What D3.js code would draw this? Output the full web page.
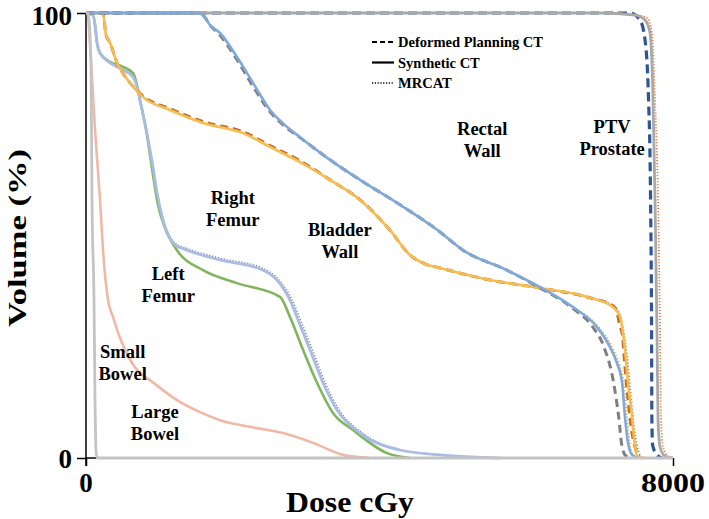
<!DOCTYPE html>
<html>
<head>
<meta charset="utf-8">
<script src="https://cdnjs.cloudflare.com/ajax/libs/d3/7.8.5/d3.min.js"></script>
<style>
  body { margin: 0; background: #fff; }
  text { font-family: "Liberation Serif", "DejaVu Serif", serif; font-weight: bold; fill: #000; }
</style>
</head>
<body>
<div id="chart"></div>
<script>
// dose (cGy), volume (%)
var ptvSynth    = [[0,100],[7005,100],[7483,99.5],[7619,98.4],[7687,95.5],[7728,80.4],[7755,58],[7782,28.1],[7796,8.5],[7823,2.5],[7891,0.4],[8000,0]];
var ptvDeformed = [[0,100],[7414,100],[7551,98.4],[7619,93.9],[7667,80.4],[7694,58],[7708,28.1],[7712,8.5],[7722,2.9],[7782,0.7],[7850,0]];
var ptvMrcat    = [[0,100],[7100,100],[7510,99.5],[7646,98.9],[7714,95.5],[7755,80.4],[7796,58],[7823,28.1],[7837,8.5],[7864,2.5],[7932,0.4],[8000,0]];

var rectalSynth    = [[0,100],[1526,100],[1595,99.5],[1690,97.3],[1826,95.5],[2058,90.1],[2276,84.3],[2508,78.2],[2712,74.8],[2917,72.1],[3326,67],[3735,62.5],[4280,56.9],[4825,50.8],[5138,46.7],[5738,42.2],[6188,38.4],[6637,33.9],[6965,29.4],[7142,24.9],[7237,21.3],[7306,16.9],[7346,9.2],[7387,3.4],[7442,0.7],[7524,0]];
var rectalDeformed = [[0,100],[1526,100],[1595,99.5],[1690,97.3],[1826,95],[2058,89.5],[2276,83.5],[2508,77.8],[2712,74.5],[2917,72],[3326,67],[3735,62.5],[4280,56.9],[4825,50.8],[5138,46.7],[5738,42.2],[6188,38.2],[6637,33.6],[6900,29.6],[7060,24.9],[7190,17],[7260,9.2],[7306,2.5],[7360,0.4],[7420,0]];
var rectalMrcat    = [[0,100],[1526,100],[1595,99.5],[1690,97.3],[1826,95.5],[2058,90.1],[2276,84.3],[2508,78.2],[2712,74.8],[2917,72.1],[3326,67],[3735,62.5],[4280,56.9],[4825,50.8],[5138,46.7],[5738,42.2],[6188,38.4],[6637,33.9],[6990,29.4],[7170,24.9],[7270,21],[7330,16.9],[7375,9.2],[7410,3.4],[7460,0.7],[7540,0]];

var bladderSynth    = [[0,100],[232,100],[273,95],[327,93.3],[423,88.8],[518,86.1],[600,84.3],[777,81.1],[1145,78.2],[1595,75.3],[2140,73],[2508,69.9],[2917,66.5],[3326,62.5],[3735,58],[4143,51.2],[4416,45.6],[4621,43.6],[4825,42.7],[5506,40],[6188,38.2],[6870,36],[7183,33.9],[7251,32.6],[7278,31.7],[7346,24.3],[7387,16.9],[7442,9.2],[7483,2.5],[7524,0.2],[7619,0]];
var bladderDeformed = [[0,100],[232,100],[273,95],[327,93.3],[423,88.8],[518,86.1],[600,84.3],[777,81.3],[1145,78.5],[1595,75.6],[2140,73.3],[2508,70.2],[2917,66.8],[3326,62.5],[3735,58],[4143,51.2],[4416,45.6],[4621,43.6],[4825,42.7],[5506,40],[6188,38.2],[6870,36],[7183,34.2],[7237,32.8],[7278,29.5],[7306,28.1],[7346,20.4],[7387,13],[7442,5.6],[7510,1.1],[7551,0]];
var bladderMrcat    = [[0,100],[232,100],[273,95],[327,93.3],[423,88.8],[518,86.1],[600,84.3],[777,81.1],[1145,78.2],[1595,75.3],[2140,73],[2508,69.9],[2917,66.5],[3326,62.5],[3735,58],[4143,51.2],[4416,45.6],[4621,43.6],[4825,42.7],[5506,40],[6188,38.2],[6870,36],[7200,34],[7280,32],[7320,29],[7380,22],[7420,15],[7470,7],[7520,2],[7570,0]];

var rightFemurSynth = [[0,100],[95,99.5],[123,97.3],[150,93.3],[191,91],[327,88.8],[504,87.2],[641,85.6],[695,83.4],[736,80.4],[831,73],[913,65.4],[968,59.6],[1049,53.5],[1213,47.9],[1377,46.7],[1826,44.5],[2413,42.2],[2603,40],[2780,35.5],[2917,29.9],[3053,24.3],[3230,16.9],[3421,10.8],[3735,5.6],[4280,1.8],[4825,0.7],[5643,0]];
var rightFemurMrcat = [[0,100],[95,99.5],[123,97.3],[150,93.3],[191,91],[327,88.8],[504,87.4],[641,85.8],[695,83.6],[736,80.6],[831,73.2],[913,65.6],[968,59.8],[1049,53.8],[1213,48.3],[1377,47.1],[1826,44.9],[2413,42.6],[2630,40],[2810,35.5],[2950,29.9],[3085,24.3],[3260,16.9],[3450,10.8],[3770,5.6],[4300,1.8],[4850,0.7],[5643,0]];
var leftFemurSynth  = [[0,100],[95,99.5],[123,97.3],[150,93.3],[191,91],[327,89],[504,87.9],[641,86.5],[695,83.8],[736,80.4],[831,72.6],[913,63.6],[981,56.9],[1077,51.7],[1240,46.7],[1595,42.2],[2058,39.3],[2644,36.2],[2780,31.7],[2958,24.3],[3149,16.9],[3366,10.1],[3639,6.3],[4103,1.1],[4416,0]];

var largeBowelSynth = [[27,100],[68,89.4],[123,73.7],[191,58],[232,46.7],[300,35.5],[368,31.7],[450,27.6],[532,24.3],[695,19.8],[872,17.5],[1240,13],[1554,10.3],[1826,8.5],[2235,7],[2685,5.6],[3094,3.4],[3503,0.7],[3871,0]];
var smallBowelSynth = [[0,100],[27,100],[68,89],[82,58],[109,35.5],[123,13],[136,1.8],[150,0],[8000,0]];

var xTicks = [0, 8000];
var yTicks = [0, 100];

var legendItems = [
  {name: 'Deformed Planning CT', dash: '5,3', width: 2},
  {name: 'Synthetic CT', dash: null, width: 2.2},
  {name: 'MRCAT', dash: '1.2,1.6', width: 1.6}
];

var structLabels = [
  {lines: ['PTV', 'Prostate'], dose: 7170, vol: 73},
  {lines: ['Rectal', 'Wall'], dose: 5400, vol: 72.5},
  {lines: ['Bladder', 'Wall'], dose: 3460, vol: 50},
  {lines: ['Right', 'Femur'], dose: 2000, vol: 57},
  {lines: ['Left', 'Femur'], dose: 1120, vol: 40},
  {lines: ['Small', 'Bowel'], dose: 500, vol: 22.5},
  {lines: ['Large', 'Bowel'], dose: 940, vol: 9}
];

function drawChart(){
	var width = 709, height = 519;
	var svg = d3.select('#chart').append('svg')
			.attr('width', width)
			.attr('height', height);

	var x = d3.scaleLinear().domain([0, 8000]).range([86, 673]);
	var y = d3.scaleLinear().domain([0, 100]).range([458, 13]);

	// monotone in dose keeps the steep falls from overshooting
	var line = d3.line()
		.x(function(d) { return x(d[0]); })
		.y(function(d) { return y(d[1]); })
		.curve(d3.curveMonotoneX);

	// axes
	var xAxis = d3.axisBottom(x).tickValues(xTicks).tickSize(8).tickFormat('');
	var yAxis = d3.axisLeft(y).tickValues(yTicks).tickSize(9).tickFormat('');
	var gx = svg.append('g').attr('transform', 'translate(0,458)').call(xAxis);
	var gy = svg.append('g').attr('transform', 'translate(86,0)').call(yAxis);
	gx.select('.domain').attr('d', 'M86,0H673').attr('stroke', '#000').attr('stroke-width', 1.5);
	gy.select('.domain').attr('d', 'M0,13V466').attr('stroke', '#000').attr('stroke-width', 1.5);
	svg.selectAll('.tick line').attr('stroke', '#000').attr('stroke-width', 1.5);

	var series = [
		{data: ptvDeformed, color: '#2f5597', w: 3.2, dash: '9,5'},
		{data: ptvMrcat, color: '#e9773a', w: 1.8, dash: '1.2,1.8'},
		{data: ptvSynth, color: '#a9a9a9', w: 2.8, dash: null},
		{data: largeBowelSynth, color: '#f2b8a6', w: 2.6, dash: null},
		{data: leftFemurSynth, color: '#80b55d', w: 2.6, dash: null},
		{data: rightFemurMrcat, color: '#7d8aa3', w: 1.6, dash: '1.2,1.8'},
		{data: rightFemurSynth, color: '#a9bce4', w: 2.8, dash: null},
		{data: bladderMrcat, color: '#8e8e8e', w: 1.8, dash: '1.3,2'},
		{data: bladderDeformed, color: '#c06f2c', w: 3, dash: '8,5'},
		{data: bladderSynth, color: '#f7bd4e', w: 2.6, dash: null},
		{data: rectalDeformed, color: '#7f7f7f', w: 3, dash: '8,5'},
		{data: rectalMrcat, color: '#e8b33a', w: 1.8, dash: '1.3,2'},
		{data: rectalSynth, color: '#7ea9da', w: 2.6, dash: null},
		{data: smallBowelSynth, color: '#c4c4c4', w: 2.8, dash: null}
	];

	svg.append('g').selectAll('path')
		.data(series)
		.enter()
		.append('path')
		.attr('d', function(d) { return line(d.data); })
		.attr('fill', 'none')
		.attr('stroke', function(d) { return d.color; })
		.attr('stroke-width', function(d) { return d.w; })
		.attr('stroke-dasharray', function(d) { return d.dash; })
		.attr('stroke-linejoin', 'round');

	// tick labels
	svg.selectAll('.ylab').data(yTicks).enter()
		.append('text')
		.attr('x', 72)
		.attr('y', function(d) { return d == 100 ? 25 : y(d) + 10; })
		.attr('text-anchor', 'end')
		.style('font-size', '27px')
		.text(function(d) { return d; });
	svg.selectAll('.xlab').data(xTicks).enter()
		.append('text')
		.attr('x', function(d) { return x(d); })
		.attr('y', 492)
		.attr('text-anchor', 'middle')
		.style('font-size', '27px')
		.attr('textLength', function(d) { return d == 8000 ? 64 : null; })
		.attr('lengthAdjust', 'spacingAndGlyphs')
		.text(function(d) { return d; });

	svg.append('text')
		.attr('x', 350).attr('y', 512)
		.attr('text-anchor', 'middle')
		.style('font-size', '29px')
		.attr('textLength', 128)
		.attr('lengthAdjust', 'spacingAndGlyphs')
		.text('Dose cGy');
	svg.append('text')
		.attr('transform', 'translate(26,238) rotate(-90)')
		.attr('text-anchor', 'middle')
		.style('font-size', '26px')
		.attr('textLength', 178)
		.attr('lengthAdjust', 'spacingAndGlyphs')
		.text('Volume (%)');

	// legend
	var lg = svg.append('g').selectAll('g')
		.data(legendItems)
		.enter()
		.append('g')
		.attr('transform', function(d, i) { return 'translate(372,' + (42 + i*20.5) + ')'; });
	lg.append('line')
		.attr('x1', 0).attr('x2', 22)
		.attr('stroke', '#000')
		.attr('stroke-width', function(d) { return d.width; })
		.attr('stroke-dasharray', function(d) { return d.dash; });
	lg.append('text')
		.attr('x', 26).attr('y', 5)
		.style('font-size', '14.5px')
		.text(function(d) { return d.name; });

	// structure labels
	var sl = svg.append('g').selectAll('text')
		.data(structLabels)
		.enter()
		.append('text')
		.attr('text-anchor', 'middle')
		.style('font-size', '18.5px')
		.attr('transform', function(d) { return 'translate(' + x(d.dose) + ',' + y(d.vol) + ')'; });
	sl.selectAll('tspan')
		.data(function(d) { return d.lines; })
		.enter()
		.append('tspan')
		.attr('x', 0)
		.attr('y', function(d, i) { return i*22; })
		.text(function(d) { return d; });
}

drawChart();
</script>
</body>
</html>
